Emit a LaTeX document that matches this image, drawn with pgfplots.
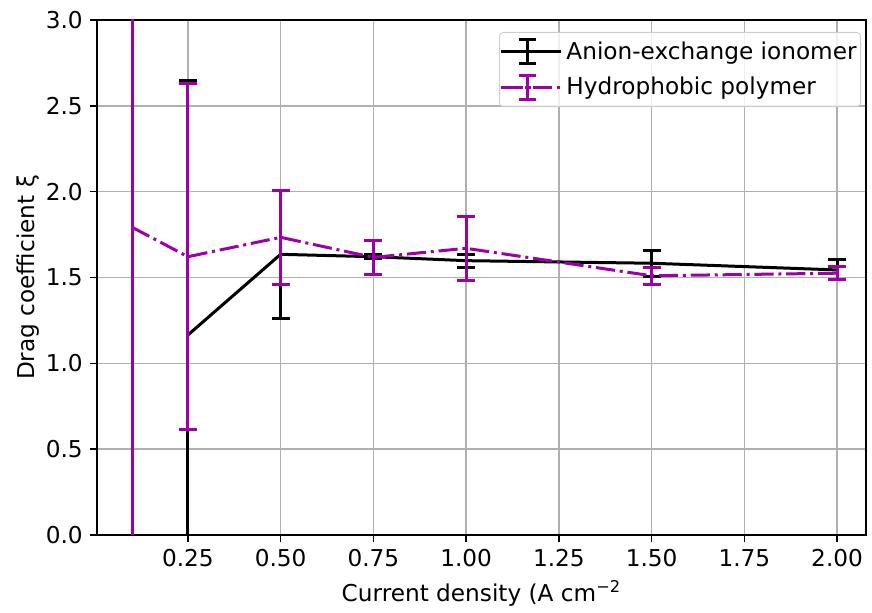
\documentclass[border=0pt]{standalone}
\usepackage{pgfplots}
\pgfplotsset{compat=1.18}
\usepackage{fontspec}
\setmainfont{DejaVu Sans}
\definecolor{mag}{HTML}{9C00A6}
\definecolor{gridc}{HTML}{B0B0B0}
\begin{document}
\begin{tikzpicture}
\path (-48.5pt,-38pt) rectangle (387.5pt,267.5pt);
\begin{axis}[
  at={(0,0)}, anchor=origin,
  scale only axis, width=384.5pt, height=257.5pt,
  xmin=0.005, xmax=2.078, ymin=0, ymax=3,
  xtick={0.25,0.5,...,2.0}, ytick={0,0.5,...,3.0},
  grid=major, major grid style={gridc, line width=0.8pt},
  axis line style={line width=0.8pt},
  tick style={black, line width=0.8pt, major tick length=3.6pt},
  tick align=outside, tick pos=left,
  /pgf/number format/assume math mode=true,
  xticklabel style={/pgf/number format/.cd, fixed, fixed zerofill, precision=2},
  yticklabel style={/pgf/number format/.cd, fixed, fixed zerofill, precision=1},
  tick label style={font=\fontsize{11.6}{13.5}\selectfont},
  label style={font=\fontsize{11.6}{13.5}\selectfont},
  xlabel={Current density (A cm\textsuperscript{−2}},
  ylabel={Drag coefficient ξ},
  xlabel style={yshift=0pt},
  ylabel style={yshift=-3.5pt},
  legend style={at={(rel axis cs:1,1)}, anchor=north east, xshift=-2.5pt, yshift=-6pt,
    font=\fontsize{11.6}{13.5}\selectfont, draw=gray!40, rounded corners=2pt, fill=white, fill opacity=0.8, text opacity=1,
    inner xsep=0pt, inner ysep=2.5pt, row sep=3.5pt},
  legend cell align=left,
  legend image code/.code={
    \path (-1.5pt,0pt) -- (28.5pt,0pt);
    \draw[#1] (0pt,0pt) -- (24pt,0pt);
    \draw[#1, solid, line width=1.5pt] (12pt,-6pt) -- (12pt,6pt);
    \draw[#1, solid, line width=1.5pt] (7.75pt,-6pt) -- (16.25pt,-6pt);
    \draw[#1, solid, line width=1.5pt] (7.75pt,6pt) -- (16.25pt,6pt);
  },
]
\addplot[black, line width=1.5pt, mark=none,
  error bars/.cd, y dir=both, y explicit,
  error bar style={line width=1.5pt, solid},
  error mark options={rotate=90, mark size=4.5pt, line width=1.5pt, solid}]
  coordinates {
  (0.25,1.165) +- (0,1.48)
  (0.5,1.635) +- (0,0.372)
  (0.75,1.621) +- (0,0.012)
  (1.0,1.598) +- (0,0.037)
  (1.5,1.583) +- (0,0.076)
  (2.0,1.544) +- (0,0.058)
  };
\addlegendentry{Anion-exchange ionomer}
\addplot[mag, line width=1.5pt, mark=none, dash pattern=on 9.6pt off 2.4pt on 1.5pt off 2.4pt,
  error bars/.cd, y dir=both, y explicit,
  error bar style={line width=1.5pt, solid},
  error mark options={rotate=90, mark size=4.5pt, line width=1.5pt, solid}]
  coordinates {
  (0.1,1.792) +- (0,2.0)
  (0.25,1.621) +- (0,1.007)
  (0.5,1.734) +- (0,0.275)
  (0.75,1.617) +- (0,0.099)
  (1.0,1.670) +- (0,0.186)
  (1.5,1.510) +- (0,0.050)
  (2.0,1.525) +- (0,0.039)
  };
\addlegendentry{Hydrophobic polymer}
\end{axis}
\end{tikzpicture}
\end{document}
